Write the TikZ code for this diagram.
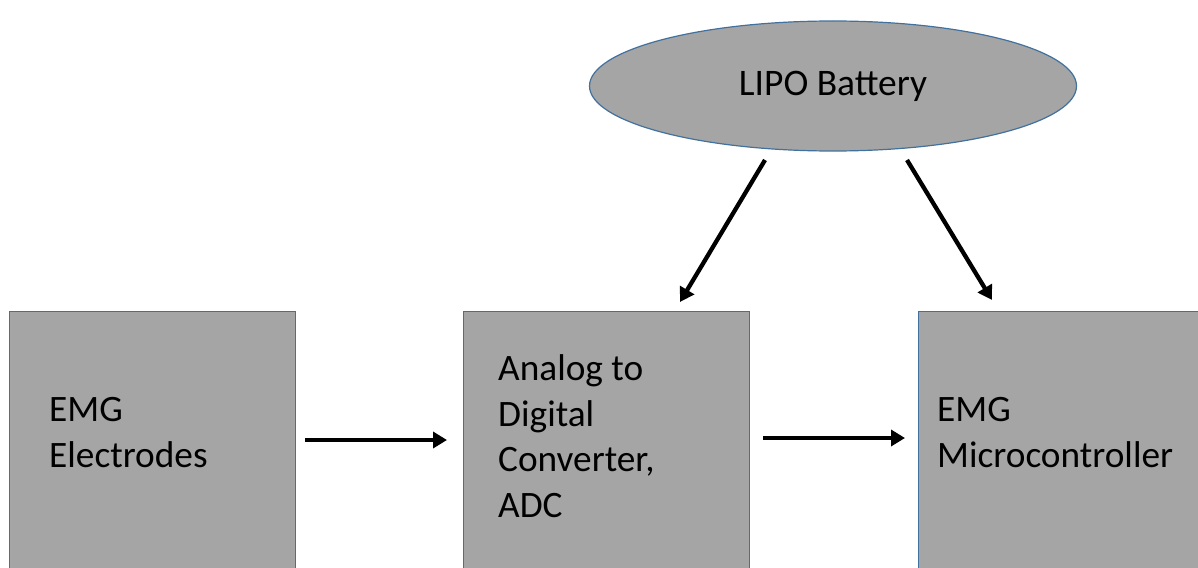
\documentclass[tikz,border=0pt]{standalone}
\usepackage{fontspec}
\setmainfont{Carlito}
\usetikzlibrary{shapes.geometric,arrows.meta}
\definecolor{boxfill}{HTML}{A5A5A5}
\definecolor{boxline}{HTML}{41719C}
\tikzset{
  block/.style={draw=boxline, line width=1.2pt, fill=boxfill, rectangle, inner sep=0pt, anchor=north west},
  lbl/.style={anchor=base west, align=left, inner sep=0pt, font=\fontsize{37.3}{45.5}\selectfont},
  batt/.style={ellipse, draw=boxline, line width=1.2pt, fill=boxfill, minimum width=487pt, minimum height=130pt, inner sep=0pt, font=\fontsize{37.5}{45}\selectfont},
  conn/.style={line width=4.3pt, -{Triangle[length=14pt,width=16pt]}}
}
\begin{document}
\begin{tikzpicture}[x=1pt,y=-1pt]
\useasboundingbox (0,0) rectangle (1198,567);
\clip (0,0) rectangle (1198,567);
\fill[white] (0,0) rectangle (1198,567);
\node[block, minimum width=286pt, minimum height=300pt] (elec) at (9,311) {};
\node[block, minimum width=286pt, minimum height=300pt] (adc) at (463,311) {};
\node[block, minimum width=300pt, minimum height=300pt] (mcu) at (918,311) {};
\node[lbl] (elect) at (49,467) {EMG\\Electrodes};
\node[lbl] (adct) at (498,517) {Analog to\\Digital\\Converter,\\ADC};
\node[lbl] (mcut) at (937,467) {EMG\\Microcontroller};
\node[batt] (bat) at (833,86) {LIPO Battery};
\coordinate (s1) at (765,160);
\coordinate (e1) at (680,302);
\coordinate (s2) at (907,160);
\coordinate (e2) at (992,300);
\coordinate (h1s) at (305,440);
\coordinate (h1e) at (447,440);
\coordinate (h2s) at (763,438);
\coordinate (h2e) at (905,438);
\draw[conn] (h1s) -- (h1e);
\draw[conn] (h2s) -- (h2e);
\draw[conn] (s1) -- (e1);
\draw[conn] (s2) -- (e2);
\end{tikzpicture}
\end{document}
